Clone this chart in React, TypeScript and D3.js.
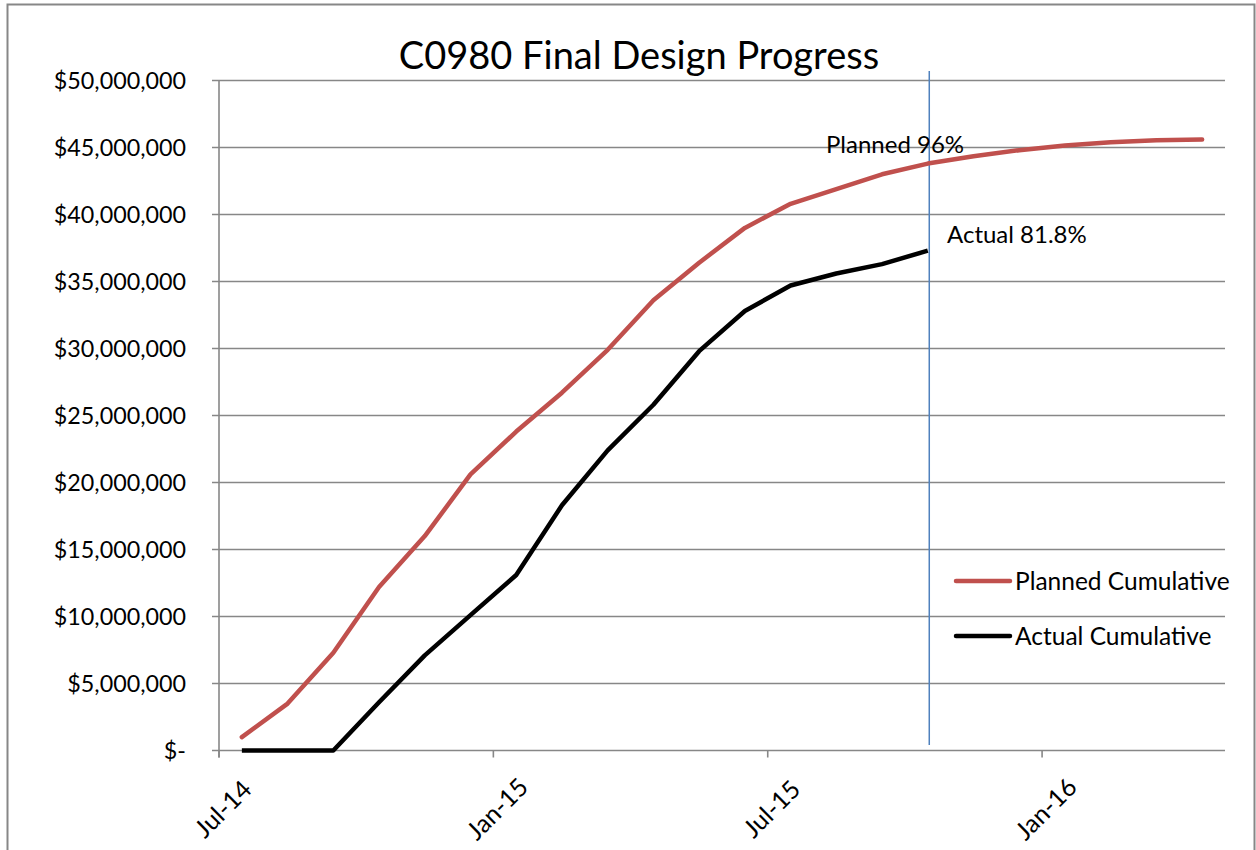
import React from "react";
import * as d3 from "d3";

const months = [
  "Jul-14", "Aug-14", "Sep-14", "Oct-14", "Nov-14", "Dec-14",
  "Jan-15", "Feb-15", "Mar-15", "Apr-15", "May-15", "Jun-15",
  "Jul-15", "Aug-15", "Sep-15", "Oct-15", "Nov-15", "Dec-15",
  "Jan-16", "Feb-16", "Mar-16", "Apr-16",
];
// cumulative values in $ millions
const planned = [
  1.0, 3.5, 7.3, 12.2, 16.0, 20.6, 23.8, 26.7, 29.9, 33.6, 36.4, 39.0,
  40.8, 41.9, 43.0, 43.8, 44.35, 44.8, 45.15, 45.4, 45.55, 45.6,
];
const actual = [
  0, 0, 0, 3.6, 7.1, 10.1, 13.1, 18.3, 22.4, 25.8, 29.8, 32.8, 34.7, 35.6, 36.3, 37.3,
];
const xTickLabels = ["Jul-14", "Jan-15", "Jul-15", "Jan-16"];
const yTicks = [0, 5, 10, 15, 20, 25, 30, 35, 40, 45, 50];
const statusMonth = "Oct-15";
const title = "C0980 Final Design Progress";
const seriesNames = ["Planned Cumulative", "Actual Cumulative"];
const annotations = ["Planned 96%", "Actual 81.8%"];

const W = 1256;
const H = 850;
const left = 219;
const right = 1225;
const top = 80.5;
const bottom = 750.5;
const FONT = "Lato, 'Open Sans', sans-serif";
const GRID = "#878787";
const RED = "#C0504D";
const BLUE = "#4F81BD";

export default function App() {
  const x = d3.scaleBand<string>().domain(months).range([left, right]).paddingInner(0).paddingOuter(0);
  const y = d3.scaleLinear().domain([0, 50]).range([bottom, top]);
  const cx = (m: string) => (x(m) as number) + x.bandwidth() / 2;

  const line = d3
    .line<number>()
    .x((_, i) => cx(months[i]))
    .y((d) => y(d));

  const fmt = d3.format(",");
  const yLabel = (v: number) => (v === 0 ? "$-" : "$" + fmt(v * 1e6));
  const sx = cx(statusMonth) + 1.5;

  return (
    <svg
      width={W}
      height={H}
      style={{ position: "absolute", left: 0, top: 0, background: "#fff" }}
      fontFamily={FONT}
    >
      <rect x={7.5} y={4.5} width={1247} height={880} fill="#fff" stroke={GRID} strokeWidth={2} />
      <text x={639} y={69} textAnchor="middle" fontSize={38} fill="#000">
        {title}
      </text>

      {/* gridlines + y ticks */}
      {yTicks.map((t) => (
        <g key={t}>
          <line x1={212} x2={right} y1={y(t)} y2={y(t)} stroke={GRID} strokeWidth={1.6} />
          <text x={186} y={y(t) + 8} textAnchor="end" fontSize={23.3} fill="#000">
            {yLabel(t)}
          </text>
        </g>
      ))}
      {/* y axis */}
      <line x1={left} x2={left} y1={top} y2={bottom + 7} stroke={GRID} strokeWidth={1.6} />
      {/* x ticks */}
      {xTickLabels.map((m) => {
        const tx = x(m) as number;
        return (
          <g key={m}>
            <line x1={tx} x2={tx} y1={bottom} y2={bottom + 7} stroke={GRID} strokeWidth={1.6} />
            <text
              transform={`translate(${tx + 3},${808}) rotate(-45)`}
              textAnchor="middle"
              dominantBaseline="central"
              fontSize={25}
              fill="#000"
            >
              {m}
            </text>
          </g>
        );
      })}

      {/* status date line */}
      <line x1={sx} x2={sx} y1={71} y2={745} stroke={BLUE} strokeWidth={1.5} />

      <path d={line(planned) || ""} fill="none" stroke={RED} strokeWidth={4.5} strokeLinejoin="round" strokeLinecap="round" />
      <path d={line(actual) || ""} fill="none" stroke="#000" strokeWidth={4.5} strokeLinejoin="round" />

      <text x={826} y={153} fontSize={24} fill="#000">
        {annotations[0]}
      </text>
      <text x={947} y={243} fontSize={24} fill="#000">
        {annotations[1]}
      </text>

      {/* legend */}
      <line x1={956} x2={1010} y1={581} y2={581} stroke={RED} strokeWidth={4.5} strokeLinecap="round" />
      <text x={1015} y={589.5} fontSize={24.5} fill="#000">
        {seriesNames[0]}
      </text>
      <line x1={956} x2={1010} y1={636} y2={636} stroke="#000" strokeWidth={4.5} strokeLinecap="round" />
      <text x={1015} y={644.5} fontSize={24.5} fill="#000">
        {seriesNames[1]}
      </text>
    </svg>
  );
}
